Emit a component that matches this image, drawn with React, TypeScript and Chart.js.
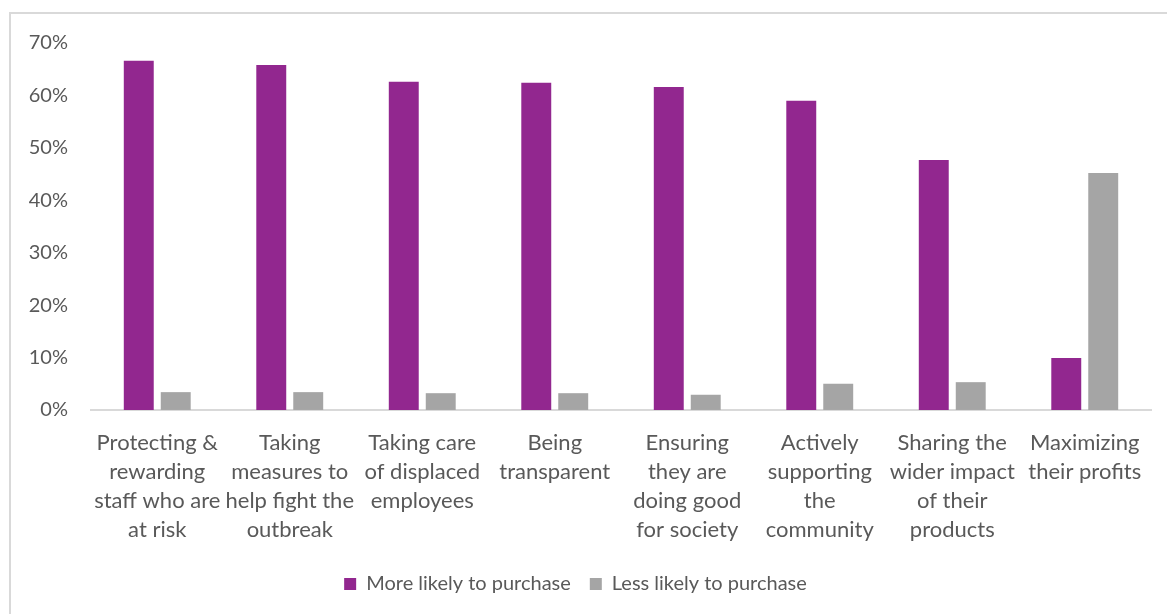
import React, { useEffect, useRef } from "react";
import { Chart, registerables } from "chart.js";

Chart.register(...registerables);

const categories: string[][] = [
  ["Protecting &", "rewarding", "staff who are", "at risk"],
  ["Taking", "measures to", "help fight the", "outbreak"],
  ["Taking care", "of displaced", "employees"],
  ["Being", "transparent"],
  ["Ensuring", "they are", "doing good", "for society"],
  ["Actively", "supporting", "the", "community"],
  ["Sharing the", "wider impact", "of their", "products"],
  ["Maximizing", "their profits"],
];

const moreLikely = [66.6, 65.8, 62.6, 62.4, 61.6, 59.0, 47.7, 9.9];
const lessLikely = [3.4, 3.4, 3.2, 3.2, 2.9, 5.0, 5.3, 45.2];

const seriesNames = ["More likely to purchase", "Less likely to purchase"];
const seriesColors = ["#92278F", "#A5A5A5"];

const FONT = "Lato, 'Open Sans', sans-serif";
const TEXT = "#595959";

export default function App() {
  const ref = useRef<HTMLCanvasElement | null>(null);

  useEffect(() => {
    if (!ref.current) return;
    const chart = new Chart(ref.current, {
      type: "bar",
      data: {
        labels: categories,
        datasets: [
          {
            label: seriesNames[0],
            data: moreLikely,
            backgroundColor: seriesColors[0],
            categoryPercentage: 0.558,
            barPercentage: 0.81,
          },
          {
            label: seriesNames[1],
            data: lessLikely,
            backgroundColor: seriesColors[1],
            categoryPercentage: 0.558,
            barPercentage: 0.81,
          },
        ],
      },
      options: {
        animation: false,
        responsive: false,
        maintainAspectRatio: false,
        layout: { padding: { top: 43, right: 16, left: 0, bottom: 10 } },
        plugins: {
          tooltip: { enabled: false },
          legend: {
            position: "bottom",
            labels: {
              boxWidth: 12,
              boxHeight: 12,
              padding: 19,
              color: TEXT,
              font: { family: FONT, size: 20 },
            },
          },
        },
        scales: {
          x: {
            grid: { display: false },
            border: { display: true, color: "#D9D9D9", width: 2 },
            ticks: {
              color: TEXT,
              font: { family: FONT, size: 22, lineHeight: 1.33 },
              maxRotation: 0,
              autoSkip: false,
              padding: 10,
            },
          },
          y: {
            min: 0,
            max: 70,
            grid: { display: false },
            border: { display: false },
            afterFit: (s: any) => {
              s.width = 91;
            },
            ticks: {
              stepSize: 10,
              color: TEXT,
              padding: 15,
              font: { family: FONT, size: 20 },
              callback: (v: any) => v + "%",
            },
          },
        },
      },
    });
    return () => chart.destroy();
  }, []);

  return (
    <div style={{ position: "fixed", left: 0, top: 0, width: 1167, height: 614, background: "#fff", overflow: "hidden" }}>
      <div
        style={{
          position: "absolute",
          left: 9,
          top: 12,
          width: 1300,
          height: 800,
          border: "2px solid #D9D9D9",
        }}
      />
      <canvas ref={ref} width={1167} height={614} style={{ position: "absolute", left: 0, top: 0 }} />
    </div>
  );
}
